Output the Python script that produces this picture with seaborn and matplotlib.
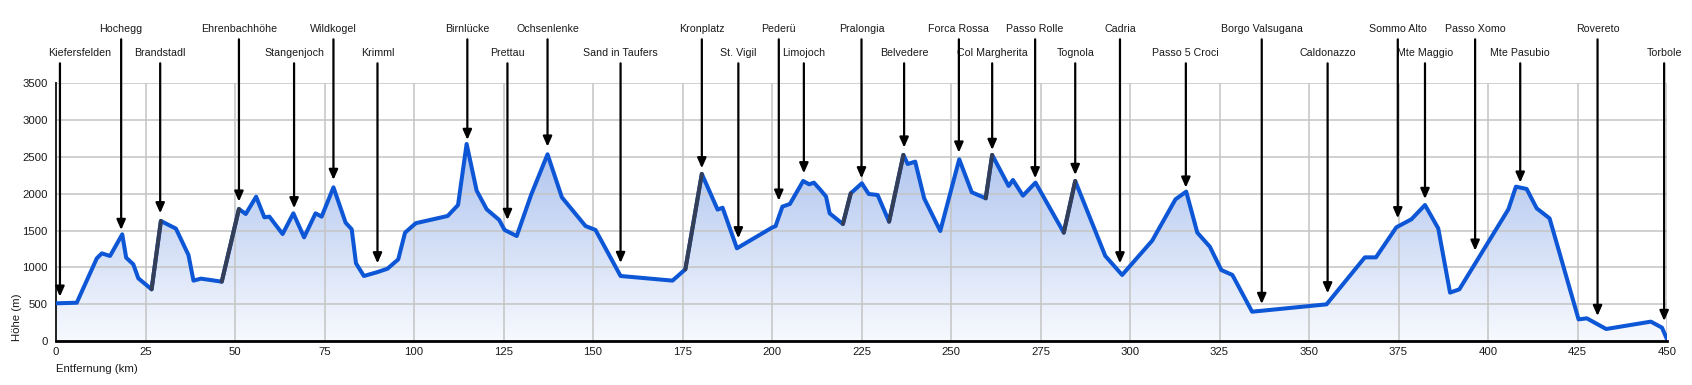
import numpy as np
import pandas as pd
import matplotlib
matplotlib.use("Agg")
import matplotlib.pyplot as plt
import seaborn as sns
from matplotlib.colors import LinearSegmentedColormap
from matplotlib.transforms import blended_transform_factory

# ---------------- data ----------------
distance_km = [0.0, 5.8, 11.4, 12.8, 15.1, 18.5, 19.6, 21.6, 23.0, 26.7, 29.3, 33.5, 37.0, 38.4,
               40.5, 46.3, 51.1, 53.0, 55.9, 58.2, 59.6, 63.3, 66.3, 69.3, 72.5, 74.2, 77.5, 80.9,
               82.6, 83.8, 86.0, 89.6, 92.6, 95.6, 97.5, 100.5, 109.4, 112.3, 114.7, 117.5, 120.3,
               123.8, 125.3, 128.7, 132.7, 137.3, 141.3, 147.9, 150.7, 157.7, 172.2, 175.8, 180.4,
               184.8, 186.2, 190.2, 200.0, 201.0, 202.9, 205.0, 208.7, 210.4, 211.7, 213.4, 215.1,
               216.1, 219.8, 222.0, 225.1, 227.0, 229.5, 232.7, 236.7, 237.9, 240.0, 242.5, 247.0,
               252.3, 255.8, 259.7, 261.5, 266.1, 267.3, 270.1, 273.6, 281.5, 284.7, 293.1, 297.8,
               306.2, 312.7, 315.7, 318.8, 322.3, 325.5, 328.6, 334.1, 354.9, 365.6, 368.7, 374.4,
               378.6, 382.4, 386.1, 389.4, 392.0, 405.7, 407.8, 410.8, 413.6, 417.2, 425.3, 427.6,
               433.0, 445.5, 448.6, 450.0]
elevation_m = [512, 520, 1123, 1190, 1155, 1449, 1132, 1041, 851, 702, 1630, 1526, 1168, 820,
               847, 806, 1793, 1725, 1960, 1680, 1689, 1453, 1734, 1408, 1734, 1689, 2087, 1607,
               1517, 1055, 883, 933, 982, 1109, 1472, 1600, 1698, 1847, 2676, 2042, 1789,
               1644, 1508, 1426, 1983, 2536, 1952, 1562, 1508, 883, 820, 974, 2269,
               1785, 1810, 1259, 1540, 1560, 1825, 1861, 2173, 2128, 2151, 2060, 1961,
               1734, 1589, 2006, 2142, 1997, 1983, 1621, 2527, 2404, 2436, 1938, 1494,
               2468, 2020, 1938, 2527, 2105, 2187, 1974, 2151, 1472, 2173, 1155, 897,
               1363, 1924, 2029, 1472, 1281, 964, 897, 398, 498, 1136, 1136, 1544,
               1653, 1847, 1530, 657, 702, 1789, 2096, 2065, 1802, 1666, 294, 308,
               163, 263, 181, 23]

# segments (by starting km) travelled by lift / transport, drawn dark
lift_start_km = [26.7, 46.3, 175.8, 219.8, 232.7, 259.7, 281.5]

place_names = ["Kiefersfelden", "Hochegg", "Brandstadl", "Ehrenbachhöhe", "Stangenjoch",
               "Wildkogel", "Krimml", "Birnlücke", "Prettau", "Ochsenlenke", "Sand in Taufers",
               "Kronplatz", "St. Vigil", "Pederü", "Limojoch", "Pralongia", "Belvedere",
               "Forca Rossa", "Col Margherita", "Passo Rolle", "Tognola", "Cadria",
               "Passo 5 Croci", "Borgo Valsugana", "Caldonazzo", "Sommo Alto", "Mte Maggio",
               "Passo Xomo", "Mte Pasubio", "Rovereto", "Torbole"]
place_km = [1.1, 18.2, 29.1, 51.1, 66.5, 77.5, 89.8, 114.9, 126.1, 137.3, 157.7, 180.4, 190.6,
            201.9, 208.9, 225.0, 236.9, 252.2, 261.5, 273.5, 284.7, 297.2, 315.6, 336.8, 355.2,
            374.8, 382.4, 396.4, 409.0, 430.6, 449.2]
place_arrow_m = [602, 1508, 1735, 1893, 1803, 2188, 1055, 2731, 1644, 2640, 1060, 2346, 1395,
                 1906, 2278, 2210, 2627, 2559, 2595, 2210, 2255, 1055, 2083, 503, 648, 1667,
                 1929, 1227, 2151, 340, 272]
place_row = ["low", "high", "low", "high", "low", "high", "low", "high", "low", "high", "low",
             "high", "low", "high", "low", "high", "low", "high", "low", "high", "low", "high",
             "low", "high", "low", "high", "low", "high", "low", "high", "low"]

x_ticks = list(range(0, 451, 25))
y_ticks = list(range(0, 3501, 500))

# ---------------- style ----------------
sns.set_theme(style="white")
plt.rcParams["font.family"] = ["Liberation Sans", "DejaVu Sans"]

LINE = "#0d56d6"
LIFT = "#343e56"
TXT = "#1a1a1a"

fig = plt.figure(figsize=(16.92, 3.85), dpi=100)
ax = fig.add_axes([56 / 1692, 44 / 385, 1611 / 1692, 257.7 / 385])

df = pd.DataFrame({"km": distance_km, "m": elevation_m})

# gradient fill under the profile
poly = ax.fill_between(df["km"], df["m"], 0, facecolor="none", edgecolor="none")
cmap = LinearSegmentedColormap.from_list("prof", ["#f7f9fe", "#97b3e9"])
grad = np.linspace(1, 0, 256).reshape(-1, 1)
im = ax.imshow(grad, extent=[0, 450, 0, 3500], aspect="auto", cmap=cmap,
               origin="upper", zorder=1, interpolation="bilinear")
im.set_clip_path(poly.get_paths()[0], transform=ax.transData)

# profile line
sns.lineplot(data=df, x="km", y="m", ax=ax, color=LINE, lw=2.9, sort=False,
             estimator=None, zorder=3, solid_joinstyle="round", solid_capstyle="round")

# lift segments
for s in lift_start_km:
    i = int(np.argmin(np.abs(df["km"].to_numpy() - s)))
    seg = df.iloc[i:i + 2]
    ax.plot(seg["km"], seg["m"], color=LIFT, lw=2.9, zorder=3.5, solid_capstyle="round")

ax.set_xlim(0, 450)
ax.set_ylim(0, 3500)
ax.set_xticks(x_ticks)
ax.set_yticks(y_ticks)
ax.tick_params(axis="both", length=0, labelsize=8.2, colors=TXT)
ax.tick_params(axis="y", pad=6)
ax.tick_params(axis="x", pad=4)
ax.grid(True, color="#c4c4c4", lw=1.1)
ax.set_axisbelow("line")
for sp in ["top", "right"]:
    ax.spines[sp].set_visible(False)
ax.spines["left"].set_color("#222222")
ax.spines["left"].set_linewidth(1.4)
ax.spines["bottom"].set_color("#000000")
ax.spines["bottom"].set_linewidth(2.0)
ax.spines["bottom"].set_zorder(4)

ax.set_xlabel("Entfernung (km)", fontsize=8.2, color=TXT)
ax.xaxis.label.set(ha="left", va="center")
ax.xaxis.set_label_coords(0, -0.1087)
ax.set_ylabel("Höhe (m)", fontsize=8.2, color=TXT)
ax.yaxis.label.set(rotation_mode="default", ha="center", va="bottom")
ax.yaxis.set_label_coords(-0.0242, 0.0)

# place annotations
trans = blended_transform_factory(ax.transData, ax.transAxes)
row_text_y = {"high": 1.198, "low": 1.106}
row_arrow_y = {"high": 1.1707, "low": 1.0776}
for k, (name, km, tip, row) in enumerate(zip(place_names, place_km, place_arrow_m, place_row)):
    ax.annotate("", xy=(km, tip), xycoords="data",
                xytext=(km, row_arrow_y[row]), textcoords=trans,
                arrowprops=dict(arrowstyle="-|>,head_length=0.5,head_width=0.22",
                                color="black", lw=1.6, shrinkA=0, shrinkB=0,
                                mutation_scale=12),
                annotation_clip=False, zorder=6)
    if k == 0:
        ax.text(-8.3 / 1611, row_text_y[row], name, transform=ax.transAxes,
                ha="left", va="baseline", fontsize=7.7, color=TXT)
    else:
        ax.text(km, row_text_y[row], name, transform=trans, ha="center",
                va="baseline", fontsize=7.7, color=TXT)

fig.savefig("out.png", dpi=100)
